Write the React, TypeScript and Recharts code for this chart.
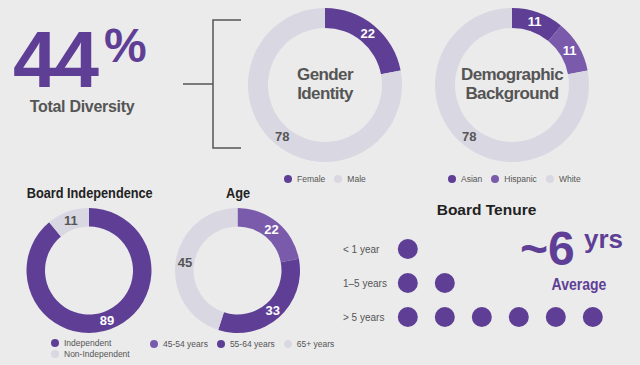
import {
  Cell,
  Legend,
  Pie,
  PieChart,
  Scatter,
  ScatterChart,
  XAxis,
  YAxis,
} from "recharts";

const PURPLE = "#5f3f96";
const PURPLE_LIGHT = "#7a5aab";
const GRAY = "#d9d7e1";
const TEXT = "#555555";
const TITLE = "#222222";
const BG = "#ebebeb";
const FONT = "'Liberation Sans', Arial, Helvetica, sans-serif";

const totalDiversity = 44;

const genderNames = ["Female", "Male"];
const genderValues = [22, 78];

const demographicNames = ["Asian", "Hispanic", "White"];
const demographicValues = [11, 11, 78];

const independenceNames = ["Independent", "Non-Independent"];
const independenceValues = [89, 11];

const ageNames = ["45-54 years", "55-64 years", "65+ years"];
const ageValues = [22, 33, 45];

const tenureRows = ["< 1 year", "1–5 years", "> 5 years"];
const tenureCounts = [1, 2, 6];
const averageTenure = 6;

const RAD = Math.PI / 180;

function makeLabel(colors: string[]) {
  return (p: any) => {
    const r = (p.innerRadius + p.outerRadius) / 2;
    const x = p.cx + r * Math.cos(-p.midAngle * RAD);
    const y = p.cy + r * Math.sin(-p.midAngle * RAD);
    return (
      <text
        x={x}
        y={y}
        textAnchor="middle"
        dominantBaseline="central"
        fill={colors[p.index] === GRAY ? TEXT : "#ffffff"}
        fontSize={13}
        fontWeight="bold"
        fontFamily={FONT}
      >
        {p.value}
      </text>
    );
  };
}

function LegendItems({
  payload,
  names,
  colors,
  vertical,
}: {
  payload?: any[];
  names: string[];
  colors: string[];
  vertical?: boolean;
}) {
  const items = payload && payload.length ? payload.map((p) => p.value) : names;
  return (
    <div
      style={{
        display: "flex",
        flexDirection: vertical ? "column" : "row",
        columnGap: 9,
        fontSize: 8.5,
        lineHeight: vertical ? "11px" : "12px",
        color: TEXT,
        fontFamily: FONT,
        whiteSpace: "nowrap",
      }}
    >
      {items.map((name: string, i: number) => (
        <div key={name} style={{ display: "flex", alignItems: "center" }}>
          <span
            style={{
              width: 8,
              height: 8,
              borderRadius: 4,
              background: colors[i],
              marginRight: 5,
              display: "inline-block",
            }}
          />
          {name}
        </div>
      ))}
    </div>
  );
}

function Donut({
  names,
  values,
  colors,
  left,
  top,
  width,
  height,
  cx,
  cy,
  inner,
  outer,
  legendLeft,
  legendTop,
  vertical,
}: {
  names: string[];
  values: number[];
  colors: string[];
  left: number;
  top: number;
  width: number;
  height: number;
  cx: number;
  cy: number;
  inner: number;
  outer: number;
  legendLeft: number;
  legendTop: number;
  vertical?: boolean;
}) {
  const data = names.map((name, i) => ({ name, value: values[i] }));
  return (
    <div style={{ position: "absolute", left, top }}>
      <PieChart
        width={width}
        height={height}
        margin={{ top: 0, right: 0, bottom: 0, left: 0 }}
      >
        <Pie
          data={data}
          dataKey="value"
          nameKey="name"
          cx={cx}
          cy={cy}
          innerRadius={inner}
          outerRadius={outer}
          startAngle={90}
          endAngle={-270}
          stroke="none"
          label={makeLabel(colors)}
          labelLine={false}
          isAnimationActive={false}
        >
          {data.map((d, i) => (
            <Cell key={d.name} fill={colors[i]} />
          ))}
        </Pie>
        <Legend
          content={(props: any) => (
            <LegendItems
              payload={props.payload}
              names={names}
              colors={colors}
              vertical={vertical}
            />
          )}
          wrapperStyle={{ left: legendLeft, top: legendTop, width: "auto" }}
        />
      </PieChart>
    </div>
  );
}

function TenureTick({ y, payload }: any) {
  const label = tenureRows[tenureRows.length - payload.value];
  return (
    <text x={10} y={y} dy={3.5} fontSize={10} fill={TEXT} fontFamily={FONT}>
      {label}
    </text>
  );
}

const tenurePoints = tenureCounts.flatMap((count, row) =>
  Array.from({ length: count }, (_, k) => ({
    x: k + 1,
    y: tenureRows.length - row,
  }))
);

export default function App() {
  return (
    <div
      style={{
        position: "absolute",
        left: 0,
        top: 0,
        width: 640,
        height: 365,
        background: BG,
        overflow: "hidden",
        fontFamily: FONT,
      }}
    >
      <svg
        width={640}
        height={365}
        style={{ position: "absolute", left: 0, top: 0 }}
        fontFamily={FONT}
        fontWeight="bold"
      >
        <text x={13} y={87} fontSize={80} fill={PURPLE} letterSpacing={-3}>
          {totalDiversity}
        </text>
        <text x={104} y={62} fontSize={48} fill={PURPLE}>
          %
        </text>
        <text x={82} y={112} fontSize={16} fill={TEXT} textAnchor="middle" letterSpacing={-0.3}>
          Total Diversity
        </text>
        <path
          d="M183,84 H213 M241,20 H213 V148 H241"
          fill="none"
          stroke={TEXT}
          strokeWidth={1.5}
        />
        <g fontSize={17} fill={TEXT} textAnchor="middle" letterSpacing={-0.6}>
          <text x={325} y={80}>Gender</text>
          <text x={325} y={99}>Identity</text>
          <text x={512} y={80}>Demographic</text>
          <text x={512} y={99}>Background</text>
        </g>
        <g fontSize={15} fill={TITLE} textAnchor="middle">
          <text transform="translate(89.7,198) scale(0.85,1)">Board Independence</text>
          <text transform="translate(238,198) scale(0.85,1)">Age</text>
        </g>
        <text x={486.5} y={215} fontSize={15.5} fill={TITLE} textAnchor="middle">
          Board Tenure
        </text>
        <text x={520} y={265} fontSize={48} fill={PURPLE}>
          ~{averageTenure}
        </text>
        <text x={584} y={248} fontSize={26} fill={PURPLE}>
          yrs
        </text>
        <text
          transform="translate(579,290) scale(0.85,1)"
          fontSize={16.5}
          fill={PURPLE}
          textAnchor="middle"
        >
          Average
        </text>
      </svg>

      <Donut
        names={genderNames}
        values={genderValues}
        colors={[PURPLE, GRAY]}
        left={225}
        top={0}
        width={200}
        height={190}
        cx={100}
        cy={85}
        inner={57}
        outer={77}
        legendLeft={59}
        legendTop={173}
      />
      <Donut
        names={demographicNames}
        values={demographicValues}
        colors={[PURPLE, PURPLE_LIGHT, GRAY]}
        left={412}
        top={0}
        width={200}
        height={190}
        cx={100}
        cy={85}
        inner={57}
        outer={77}
        legendLeft={36}
        legendTop={173}
      />
      <Donut
        names={independenceNames}
        values={independenceValues}
        colors={[PURPLE, GRAY]}
        left={0}
        top={180}
        width={180}
        height={185}
        cx={89}
        cy={90.5}
        inner={44}
        outer={62.5}
        legendLeft={51}
        legendTop={157.5}
        vertical
      />
      <Donut
        names={ageNames}
        values={ageValues}
        colors={[PURPLE_LIGHT, PURPLE, GRAY]}
        left={140}
        top={180}
        width={200}
        height={185}
        cx={97.5}
        cy={90.5}
        inner={44}
        outer={62.5}
        legendLeft={10}
        legendTop={158}
      />

      <div style={{ position: "absolute", left: 333, top: 232 }}>
        <ScatterChart
          width={282}
          height={102}
          margin={{ top: 0, right: 0, bottom: 0, left: 0 }}
        >
          <XAxis type="number" dataKey="x" domain={[0.6, 6.6]} hide />
          <YAxis
            type="number"
            dataKey="y"
            domain={[0.5, 3.5]}
            ticks={[1, 2, 3]}
            width={60}
            axisLine={false}
            tickLine={false}
            tick={<TenureTick />}
          />
          <Scatter
            data={tenurePoints}
            fill={PURPLE}
            isAnimationActive={false}
            shape={(p: any) => <circle cx={p.cx} cy={p.cy} r={10} fill={PURPLE} />}
          />
        </ScatterChart>
      </div>
    </div>
  );
}
